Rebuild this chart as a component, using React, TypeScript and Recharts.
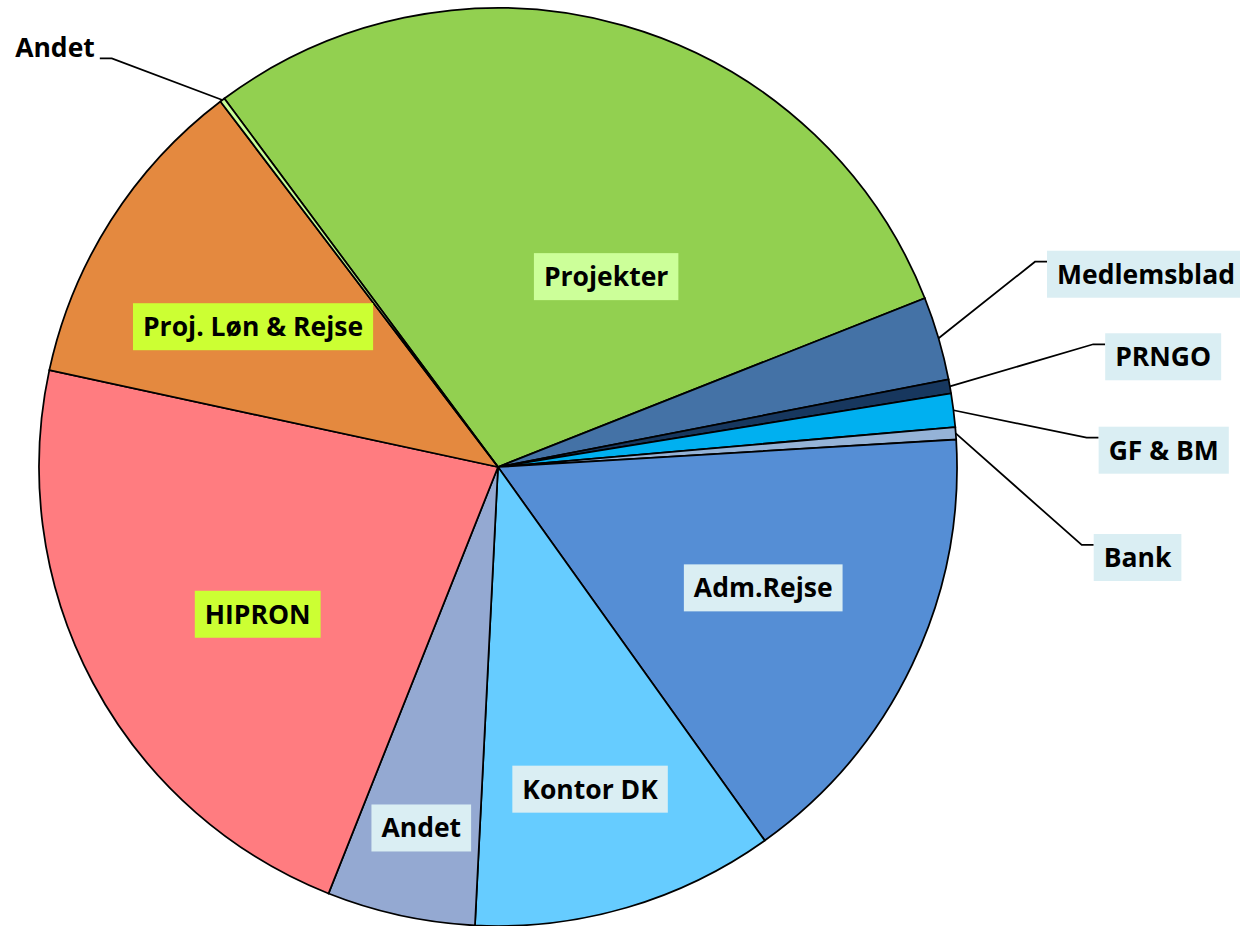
import React, { useLayoutEffect, useRef, useState } from "react";
import { PieChart, Pie, Cell } from "recharts";

// ---- data ----
const categories = [
  "Projekter",
  "Medlemsblad",
  "PRNGO",
  "GF & BM",
  "Bank",
  "Adm.Rejse",
  "Kontor DK",
  "Andet",
  "HIPRON",
  "Proj. Løn & Rejse",
  "Andet",
];
const values = [29.17, 2.94, 0.49, 1.18, 0.43, 16.08, 10.67, 5.22, 22.36, 11.28, 0.17];

// ---- styles ----
const sliceColors = [
  "#92D050",
  "#4472A6",
  "#17375E",
  "#00B0F0",
  "#95B3D7",
  "#558ED5",
  "#66CCFF",
  "#94A9D2",
  "#FF7C80",
  "#E4893F",
  "#CCFF99",
];
const labelBg = [
  "#CCFF99",
  "#DAEEF3",
  "#DAEEF3",
  "#DAEEF3",
  "#DAEEF3",
  "#DAEEF3",
  "#DAEEF3",
  "#DAEEF3",
  "#CCFF33",
  "#CCFF33",
  "none",
];
// kind: "in" = centered box at polar (r factor, angle)
// "right" = leader line to elbow at polar, box to the right
// "left" = leader line to elbow at polar, plain text to the left
const labelLayout = [
  { kind: "in", r: 0.477, a: 60.4 },
  { kind: "right", r: 1.2525, a: 20.92 },
  { kind: "right", r: 1.324, a: 11.65 },
  { kind: "right", r: 1.284, a: 2.85 },
  { kind: "right", r: 1.283, a: -7.61 },
  { kind: "in", r: 0.635, a: -24.5 },
  { kind: "in", r: 0.73, a: -74.05 },
  { kind: "in", r: 0.804, a: -102.0 },
  { kind: "in", r: 0.614, a: -148.5 },
  { kind: "in", r: 0.615, a: 150.2 },
  { kind: "left", r: 1.225, a: 133.38 },
];

const FONT = "'Open Sans', sans-serif";
const FS = 26.5;
const PAD = 10;
const BOX_H = 47;
const RAD = Math.PI / 180;

const data = categories.map((name, i) => ({ name, value: values[i] }));

function polar(cx: number, cy: number, r: number, a: number) {
  return { x: cx + r * Math.cos(a * RAD), y: cy - r * Math.sin(a * RAD) };
}

function SliceLabel(props: any) {
  const { cx, cy, midAngle, outerRadius, index } = props;
  const textRef = useRef<SVGTextElement>(null);
  const [w, setW] = useState(0);
  useLayoutEffect(() => {
    if (textRef.current) {
      const len = textRef.current.getComputedTextLength();
      if (Math.abs(len - w) > 0.5) setW(len);
    }
  });
  const lay = labelLayout[index];
  const text = categories[index];
  const bg = labelBg[index];
  const p = polar(cx, cy, outerRadius * lay.r, lay.a);
  const textStyle = {
    fontFamily: FONT,
    fontSize: FS,
    fontWeight: 700 as const,
    fill: "#000",
  };
  const baseOff = FS * 0.357;

  if (lay.kind === "in") {
    const bw = w + 2 * PAD;
    return (
      <g>
        <rect x={p.x - bw / 2} y={p.y - BOX_H / 2} width={bw} height={BOX_H} fill={bg} />
        <text ref={textRef} x={p.x} y={p.y + baseOff} textAnchor="middle" style={textStyle}>
          {text}
        </text>
      </g>
    );
  }
  const edge = polar(cx, cy, outerRadius, midAngle);
  if (lay.kind === "right") {
    const boxLeft = p.x + 12;
    const cyBox = p.y + 12.5;
    const bw = w + 2 * PAD;
    return (
      <g>
        <polyline
          points={`${edge.x},${edge.y} ${p.x},${p.y} ${boxLeft},${p.y}`}
          fill="none"
          stroke="#000"
          strokeWidth={1.75}
        />
        <rect x={boxLeft} y={cyBox - BOX_H / 2} width={bw} height={BOX_H} fill={bg} />
        <text ref={textRef} x={boxLeft + PAD} y={cyBox + baseOff} textAnchor="start" style={textStyle}>
          {text}
        </text>
      </g>
    );
  }
  // left
  return (
    <g>
      <polyline
        points={`${edge.x},${edge.y} ${p.x},${p.y} ${p.x - 12},${p.y}`}
        fill="none"
        stroke="#000"
        strokeWidth={1.75}
      />
      <text ref={textRef} x={p.x - 17} y={p.y - 1} textAnchor="end" style={textStyle}>
        {text}
      </text>
    </g>
  );
}

export default function App() {
  return (
    <div style={{ position: "absolute", left: 0, top: 0, width: 1240, height: 926, background: "#fff" }}>
      <PieChart width={1240} height={926} margin={{ top: 0, right: 0, bottom: 0, left: 0 }}>
        <Pie
          data={data}
          dataKey="value"
          nameKey="name"
          cx={498}
          cy={467}
          outerRadius={459}
          innerRadius={0}
          startAngle={126.6}
          endAngle={126.6 - 360}
          stroke="#000"
          strokeWidth={1.75}
          isAnimationActive={false}
          labelLine={false}
          label={(props: any) => <SliceLabel {...props} />}
        >
          {data.map((d, i) => (
            <Cell key={i} fill={sliceColors[i]} stroke="#000" strokeWidth={1.75} />
          ))}
        </Pie>
      </PieChart>
    </div>
  );
}
